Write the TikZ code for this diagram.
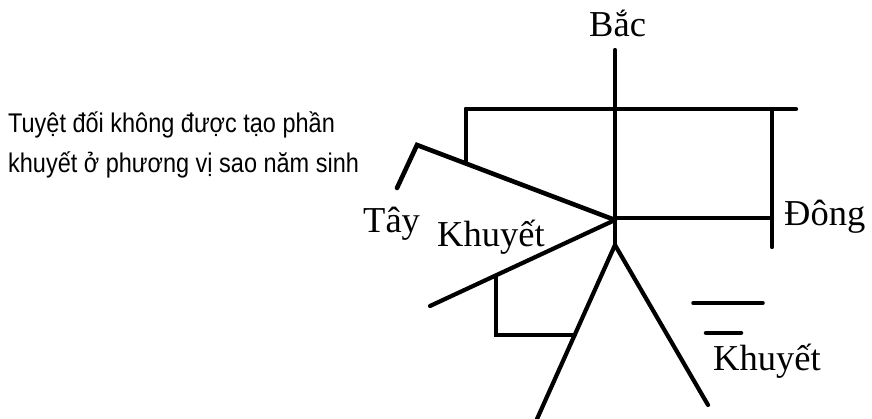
\documentclass[tikz,border=0pt]{standalone}
\usepackage{fontspec}
\setmainfont{Liberation Serif}
\newfontfamily\sansf{Liberation Sans}
\usetikzlibrary{calc,intersections}
\tikzset{
  stroke/.style={line width=4.2pt, line cap=round, line join=miter},
  serlabel/.style={anchor=base west, inner sep=0pt, font=\fontsize{36.5}{40}\selectfont},
  notelabel/.style={anchor=base west, inner sep=0pt, xscale=0.87, font=\sansf\fontsize{27}{32}\selectfont}
}
\begin{document}
\begin{tikzpicture}[x=1pt,y=-1pt]
\useasboundingbox (0,0) rectangle (872,419);
% key points
\coordinate (ntop) at (615,50);
\coordinate (c) at (615,220);
\coordinate (hip) at (615,245);
\coordinate (tl) at (466,109);
\coordinate (tr) at (796,109);
\coordinate (rt) at (772,109);
\coordinate (rb) at (772,247);
\coordinate (east) at (772,218);
\coordinate (ec) at (615,218);
\coordinate (wcorner) at (417,145);
\coordinate (wend) at (397,188);
\coordinate (sw) at (430,306);
\coordinate (legl) at (537,419);
\coordinate (legr) at (708,405);
\coordinate (boxtop) at (496,276);
\coordinate (boxbl) at (496,335);
\coordinate (dropend) at (466,162);
% main strokes
\draw[stroke] (ntop) -- (hip);
\draw[stroke] (tl) -- (tr);
\draw[stroke] (rt) -- (rb);
\draw[stroke] (ec) -- (east);
\draw[stroke, line width=4.6pt] (wend) -- (wcorner) -- (c);
\draw[stroke] (tl) -- (dropend);
\draw[stroke] (sw) -- (c);
\draw[stroke, name path=leftleg] (hip) -- (legl);
\draw[stroke] (hip) -- (legr);
\path[name path=boxh] (boxbl) -- ++(120,0);
\draw[stroke, name intersections={of=boxh and leftleg, by=boxr}] (boxtop) -- (boxbl) -- (boxr);
% short bars
\coordinate (ba1) at (693,303);
\coordinate (ba2) at (763,303);
\coordinate (bb1) at (706,333);
\coordinate (bb2) at (741,333);
\draw[line width=3.5pt, line cap=round] (ba1) -- (ba2);
\draw[line width=4.5pt, line cap=round] (bb1) -- (bb2);
% labels
\node[serlabel] (bac) at (589,37) {Bắc};
\node[serlabel] (dong) at (784,226) {Đông};
\node[serlabel] (tay) at (363,233) {Tây};
\node[serlabel] (khuyet1) at (437,247) {Khuyết};
\node[serlabel] (khuyet2) at (713,370) {Khuyết};
\node[notelabel] (note1) at (8,133) {Tuyệt đối không được tạo phần};
\node[notelabel] (note2) at (8,173) {khuyết ở phương vị sao năm sinh};
\end{tikzpicture}
\end{document}
